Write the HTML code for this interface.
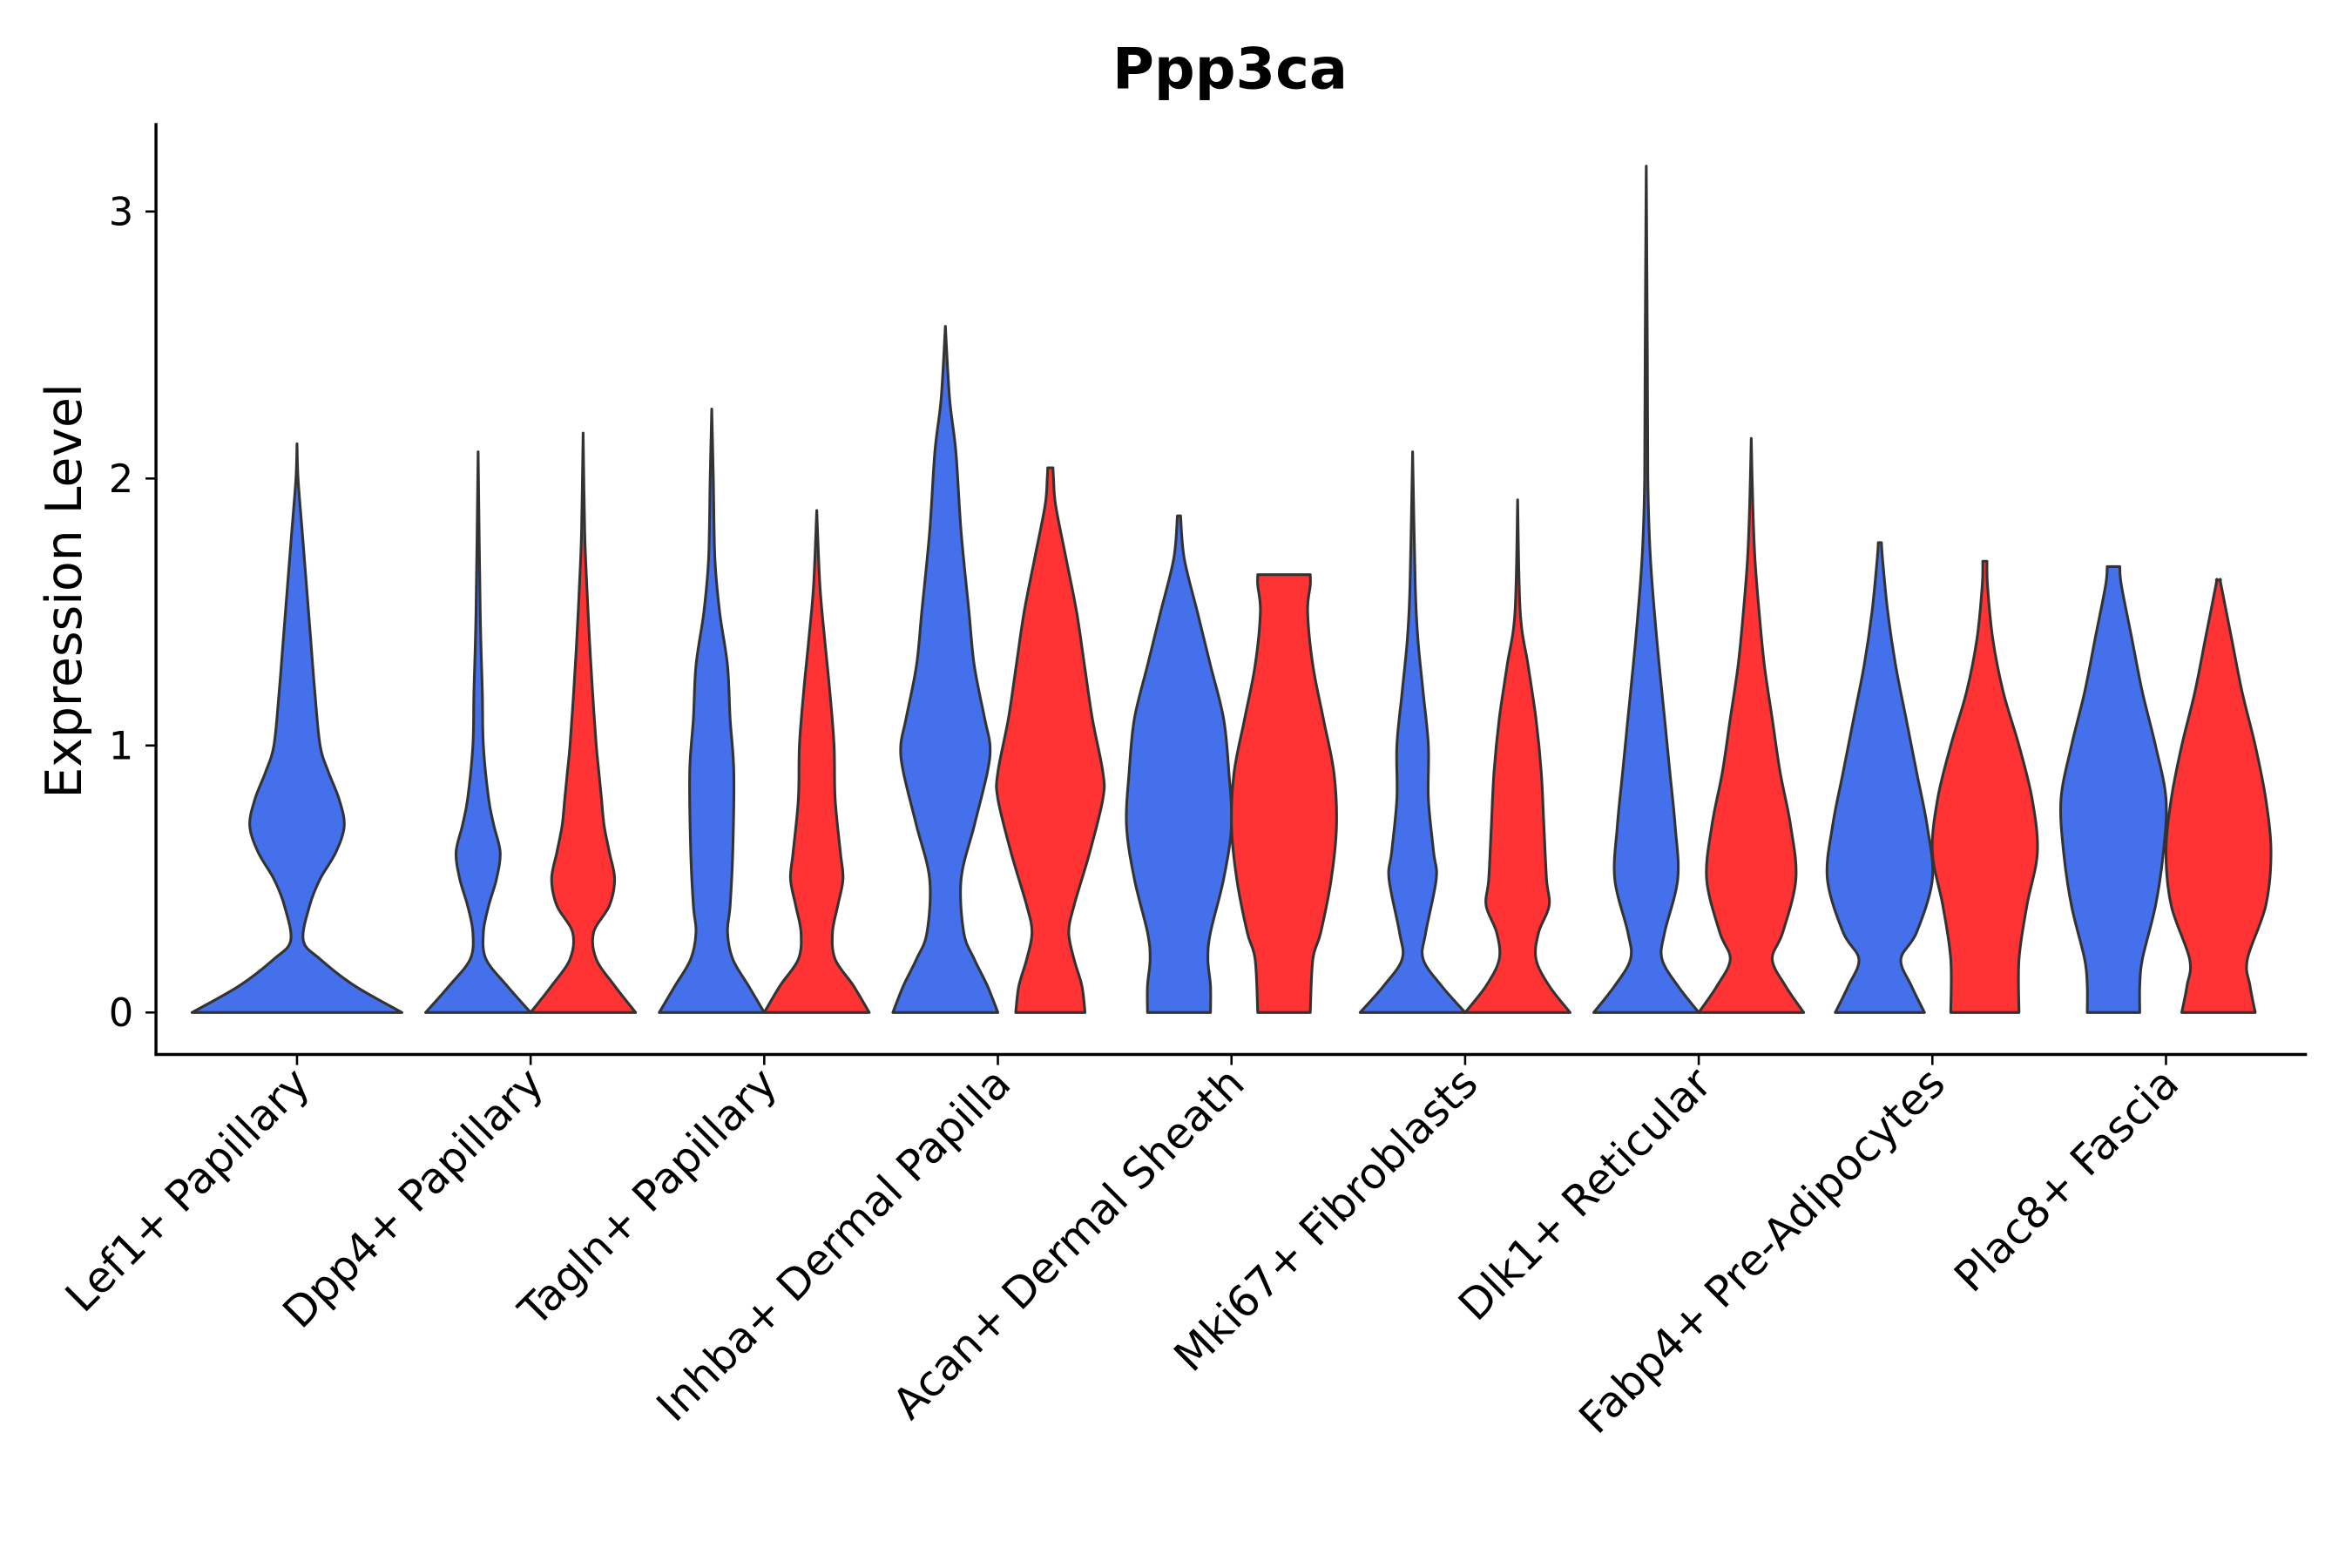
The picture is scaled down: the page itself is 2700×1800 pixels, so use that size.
<!DOCTYPE html>
<html><head><meta charset="utf-8"><style>
html,body{margin:0;padding:0;background:#fff;}
svg{display:block;font-family:"DejaVu Sans","Liberation Sans",sans-serif;}
</style></head><body>
<svg id="chart" width="2700" height="1800" viewBox="0 0 1568 1045.33" xmlns="http://www.w3.org/2000/svg">
<rect width="1568" height="1046" fill="#fff"/>
<text x="820" y="59" text-anchor="middle" font-size="38" font-weight="bold">Ppp3ca</text>
<text transform="translate(54,394) rotate(-90)" text-anchor="middle" font-size="33">Expression Level</text>
<g id="axes"></g>
<g id="marks"></g>
</svg>
<script>
const categories = ["Lef1+ Papillary","Dpp4+ Papillary","Tagln+ Papillary","Inhba+ Dermal Papilla","Acan+ Dermal Sheath","Mki67+ Fibroblasts","Dlk1+ Reticular","Fabp4+ Pre-Adipocytes","Plac8+ Fascia"];
const yTicks = [0,1,2,3];
// each profile: [expression value, relative half-width]
const blueProfiles = [
 [[0,1],[0.1,0.55],[0.2,0.22],[0.27,0.06],[0.4,0.12],[0.5,0.22],[0.6,0.37],[0.7,0.45],[0.8,0.4],[0.9,0.3],[1.0,0.22],[1.2,0.17],[1.4,0.13],[1.6,0.09],[1.8,0.05],[2.0,0.01],[2.13,0]],
 [[0,1],[0.1,0.55],[0.2,0.15],[0.3,0.1],[0.4,0.2],[0.5,0.35],[0.6,0.42],[0.7,0.3],[0.8,0.2],[1.0,0.1],[1.2,0.08],[1.5,0.04],[2.1,0]],
 [[0,1],[0.1,0.7],[0.2,0.4],[0.3,0.3],[0.4,0.35],[0.6,0.4],[0.9,0.42],[1.1,0.35],[1.3,0.3],[1.5,0.15],[1.7,0.06],[2.0,0.03],[2.26,0]],
 [[0,1],[0.1,0.8],[0.2,0.55],[0.3,0.35],[0.5,0.3],[0.7,0.55],[0.9,0.8],[1.0,0.85],[1.1,0.75],[1.3,0.55],[1.5,0.45],[1.8,0.3],[2.1,0.2],[2.3,0.08],[2.57,0]],
 [[0,0.6],[0.1,0.6],[0.2,0.55],[0.3,0.6],[0.5,0.85],[0.7,1.0],[0.9,0.95],[1.1,0.85],[1.3,0.6],[1.5,0.35],[1.7,0.1],[1.86,0.03]],
 [[0,1],[0.1,0.55],[0.2,0.2],[0.3,0.25],[0.5,0.45],[0.6,0.4],[0.8,0.3],[1.0,0.3],[1.2,0.2],[1.4,0.1],[1.6,0.05],[2.1,0]],
 [[0,1],[0.1,0.6],[0.2,0.3],[0.3,0.35],[0.5,0.6],[0.7,0.55],[0.9,0.45],[1.1,0.35],[1.4,0.2],[1.7,0.08],[2.0,0.03],[2.5,0.02],[3.17,0]],
 [[0,0.85],[0.1,0.6],[0.2,0.4],[0.3,0.7],[0.5,1.0],[0.7,0.9],[0.9,0.7],[1.1,0.5],[1.3,0.3],[1.5,0.15],[1.7,0.05],[1.76,0.03]],
 [[0,0.5],[0.1,0.5],[0.2,0.55],[0.4,0.8],[0.6,0.95],[0.8,1.0],[1.0,0.8],[1.2,0.55],[1.4,0.35],[1.6,0.15],[1.67,0.12]]
];
const redProfiles = [
 null,
 [[0,1],[0.1,0.6],[0.2,0.25],[0.3,0.2],[0.4,0.5],[0.5,0.6],[0.6,0.5],[0.7,0.4],[0.8,0.35],[0.9,0.3],[1.0,0.25],[1.2,0.18],[1.4,0.12],[1.6,0.07],[1.8,0.03],[2.17,0]],
 [[0,1],[0.1,0.7],[0.2,0.35],[0.3,0.3],[0.4,0.4],[0.5,0.5],[0.6,0.45],[0.8,0.35],[1.0,0.33],[1.2,0.25],[1.4,0.15],[1.6,0.06],[1.88,0]],
 [[0,0.66],[0.1,0.6],[0.2,0.45],[0.3,0.35],[0.4,0.45],[0.6,0.75],[0.8,1.0],[0.9,1.0],[1.1,0.8],[1.3,0.65],[1.5,0.5],[1.7,0.3],[1.9,0.1],[2.0,0.06],[2.04,0.05]],
 [[0,0.5],[0.2,0.55],[0.3,0.7],[0.5,0.9],[0.7,1.0],[0.9,0.95],[1.1,0.75],[1.3,0.55],[1.5,0.45],[1.6,0.5],[1.64,0.5]],
 [[0,1],[0.1,0.6],[0.2,0.35],[0.3,0.4],[0.4,0.6],[0.5,0.55],[0.7,0.5],[0.9,0.45],[1.1,0.35],[1.3,0.2],[1.5,0.05],[1.92,0]],
 [[0,1],[0.1,0.65],[0.2,0.4],[0.3,0.6],[0.5,0.85],[0.7,0.75],[0.9,0.55],[1.1,0.4],[1.3,0.25],[1.5,0.15],[1.7,0.07],[1.9,0.03],[2.15,0]],
 [[0,0.65],[0.2,0.65],[0.4,0.8],[0.6,1.0],[0.8,0.9],[1.0,0.65],[1.2,0.35],[1.4,0.15],[1.6,0.05],[1.69,0.04]],
 [[0,0.7],[0.1,0.6],[0.2,0.55],[0.4,0.9],[0.6,1.0],[0.8,0.9],[1.0,0.7],[1.2,0.45],[1.4,0.25],[1.6,0.05],[1.62,0.04]]
];
const NS="http://www.w3.org/2000/svg";
const x0=198, dx=155.75;
function xScale(i){return x0+i*dx;}
function yScale(v){return 675-178*v;}
const axes=document.getElementById('axes'), marks=document.getElementById('marks');
function mk(tag,attrs,parent){const e=document.createElementNS(NS,tag);for(const k in attrs)e.setAttribute(k,attrs[k]);parent.appendChild(e);return e;}
let l=mk('line',{x1:104,y1:82,x2:104,y2:703,stroke:'#000','stroke-width':2},axes);


l=mk('line',{x1:103,y1:703,x2:1538,y2:703,stroke:'#000','stroke-width':2},axes);


yTicks.forEach(t=>{
 const y=yScale(t);
 const tk=mk('line',{x1:97,y1:y,x2:104,y2:y,stroke:'#000','stroke-width':1.5},axes);
 
 
 const tx=mk('text',{x:89,y:y+9,'text-anchor':'end','font-size':26},axes);
 tx.textContent=t;
 
 
});
categories.forEach((c,i)=>{
 const x=xScale(i);
 const tk=mk('line',{x1:x,y1:703,x2:x,y2:710,stroke:'#000','stroke-width':1.5},axes);
 
 
 const tx=mk('text',{transform:`translate(${x+10},${724}) rotate(-45)`,'text-anchor':'end','font-size':28.5},axes);
 tx.textContent=c;
 
 
});
function smoothPath(pts){
 let d='M'+pts[0][0].toFixed(2)+','+pts[0][1].toFixed(2);
 for(let i=0;i<pts.length-1;i++){
  const p0=pts[Math.max(0,i-1)],p1=pts[i],p2=pts[i+1],p3=pts[Math.min(pts.length-1,i+2)];
  const c1=[p1[0]+(p2[0]-p0[0])/6,p1[1]+(p2[1]-p0[1])/6];
  const c2=[p2[0]-(p3[0]-p1[0])/6,p2[1]-(p3[1]-p1[1])/6];
  d+='C'+c1[0].toFixed(2)+','+c1[1].toFixed(2)+' '+c2[0].toFixed(2)+','+c2[1].toFixed(2)+' '+p2[0].toFixed(2)+','+p2[1].toFixed(2);
 }
 return d;
}
function violin(prof,cx,hw,color,name){
 const right=prof.map(p=>[cx+p[1]*hw,yScale(p[0])]);
 const left=prof.slice().reverse().map(p=>[cx-p[1]*hw,yScale(p[0])]);
 const d=smoothPath(right)+'L'+smoothPath(left).slice(1)+'Z';
 const p=mk('path',{d:d,fill:color,stroke:'#333','stroke-width':1.8,'stroke-linejoin':'round'},marks);
 
 
}
categories.forEach((c,i)=>{
 const x=xScale(i);
 if(!redProfiles[i]){ violin(blueProfiles[i],x,70,'#4470EB','violin-blue'); }
 else{
  violin(blueProfiles[i],x-35,35,'#4470EB','violin-blue');
  violin(redProfiles[i],x+35,35,'#FF3333','violin-red');
 }
});
</script>
</body></html>
